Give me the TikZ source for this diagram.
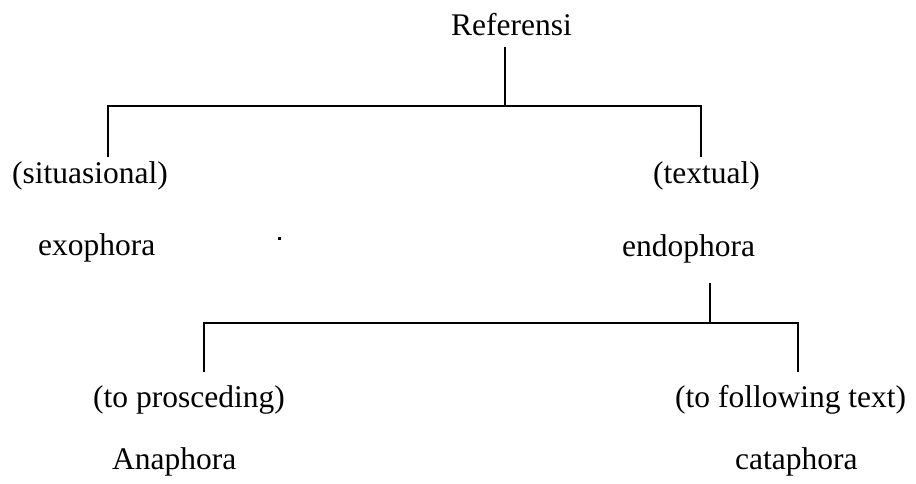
\documentclass[tikz,border=0pt]{standalone}
\usepackage{fontspec}
\setmainfont{Liberation Serif}
\newcommand\lblfont{\fontsize{31.5}{36}\selectfont}
\begin{document}
\begin{tikzpicture}[x=1pt,y=-1pt,
  lbl/.style={anchor=base west, inner sep=0pt, font=\lblfont},
  link/.style={line width=1.3pt}]
\useasboundingbox (0,0) rectangle (916,484);
% texts
\node[lbl] (ref)  at (451,36)  {Referensi};
\node[lbl] (sit)  at (12,183)  {(situasional)};
\node[lbl] (txt)  at (653,183) {(textual)};
\node[lbl] (exo)  at (38,255)  {exophora};
\node[lbl] (endo) at (622,256) {endophora};
\node[lbl] (pro)  at (93,407)  {(to prosceding)};
\node[lbl] (fol)  at (675,407) {(to following text)};
\node[lbl] (ana)  at (112,469) {Anaphora};
\node[lbl] (cata) at (735,469) {cataphora};
% junction points
\coordinate (t1) at (505,47);
\coordinate (j1) at (505,106);
\coordinate (l1) at (108,106);
\coordinate (r1) at (701,106);
\coordinate (lb1) at (108,157);
\coordinate (rb1) at (701,157);
\coordinate (t2) at (710,283);
\coordinate (j2) at (710,323);
\coordinate (l2) at (204,323);
\coordinate (r2) at (798,323);
\coordinate (lb2) at (204,372);
\coordinate (rb2) at (798,372);
% connectors
\draw[link] (t1) -- (j1);
\draw[link] (lb1) -- (l1) -- (r1) -- (rb1);
\draw[link] (t2) -- (j2);
\draw[link] (lb2) -- (l2) -- (r2) -- (rb2);
% stray dot
\fill (277.5,237) rectangle (280.5,239.5);
\end{tikzpicture}
\end{document}
